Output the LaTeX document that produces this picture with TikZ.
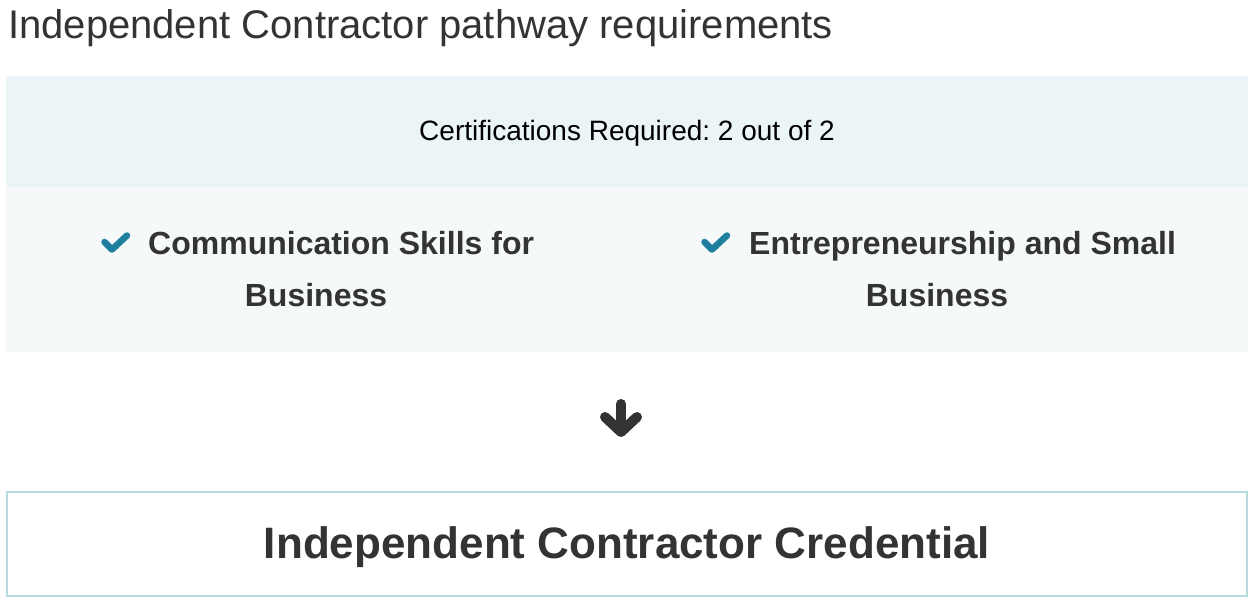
\documentclass[tikz,border=0pt]{standalone}
\usepackage{fontspec}
\setmainfont{Liberation Sans}
\frenchspacing
\definecolor{txt}{HTML}{333333}
\definecolor{headbg}{HTML}{EBF4F6}
\definecolor{bodybg}{HTML}{F5F9FA}
\definecolor{credborder}{HTML}{B9DCE3}
\definecolor{checkc}{HTML}{1E7F9E}
\tikzset{
  band/.style={inner sep=0pt, outer sep=0pt, anchor=north west},
  title/.style={anchor=base west, inner sep=0pt, text=txt, font=\fontsize{40}{48}\selectfont},
  certs/.style={anchor=base, inner sep=0pt, text=black, font=\fontsize{28}{33}\selectfont},
  item/.style={inner sep=0pt, text=txt, font=\fontsize{32}{38}\selectfont\bfseries},
  cred/.style={anchor=base, inner sep=0pt, text=txt, font=\fontsize{44}{52}\selectfont\bfseries},
  checkmk/.style={draw=checkc, line width=6.5pt, line cap=round, line join=round},
  arrowicon/.style={draw=txt, line width=10pt, line cap=round, line join=round}
}
\begin{document}
\begin{tikzpicture}[x=1pt,y=-1pt]
\useasboundingbox (0,0) rectangle (1254,604);
\fill[white] (0,0) rectangle (1254,604);
% title
\node[title] (title) at (8,39) {Independent Contractor pathway requirements};
% header band
\node[band, fill=headbg, minimum width=1242pt, minimum height=111pt] (head) at (6,76) {};
\node[certs] (certs) at (627,140.5) {Certifications Required: 2 out of 2};
% body band
\node[band, fill=bodybg, minimum width=1242pt, minimum height=165pt] (body) at (6,187) {};
% item 1
\draw[checkmk] (104.5,242) -- (112,249.5) -- (127,235.5);
\node[item, anchor=base west] (itemAa) at (148,255) {Communication Skills for};
\node[item, anchor=base] (itemAb) at (316,307) {Business};
% item 2
\draw[checkmk] (704.5,242) -- (712,249.5) -- (727,235.5);
\node[item, anchor=base west] (itemBa) at (749,255) {Entrepreneurship and Small};
\node[item, anchor=base] (itemBb) at (937,307) {Business};
% arrow icon
\draw[arrowicon] (621,404) -- (621,430);
\draw[arrowicon] (605,417) -- (621,432) -- (637,417);
% credential box
\node[band, draw=credborder, line width=2pt, minimum width=1240pt, minimum height=104pt] (credbox) at (7,492) {};
\node[cred] (cred) at (627,558) {Independent Contractor Credential};
\end{tikzpicture}
\end{document}
